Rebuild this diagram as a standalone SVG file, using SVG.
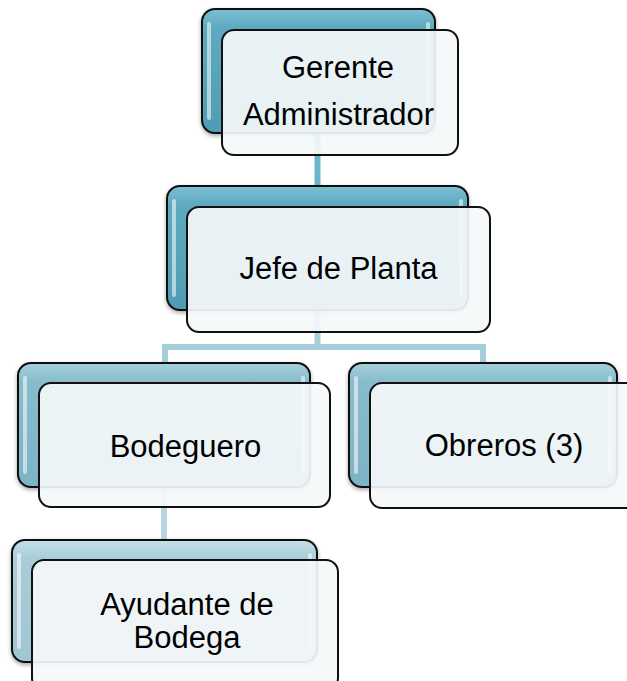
<svg xmlns="http://www.w3.org/2000/svg" width="627" height="681" viewBox="0 0 627 681">
<defs>
<linearGradient id="g1" x1="0" y1="0" x2="0" y2="1">
<stop offset="0" stop-color="#7cc0d4"/><stop offset="0.15" stop-color="#5eaac0"/><stop offset="1" stop-color="#4f9cb4"/>
</linearGradient>
<linearGradient id="g2" x1="0" y1="0" x2="0" y2="1">
<stop offset="0" stop-color="#a6d0dc"/><stop offset="0.15" stop-color="#88bccc"/><stop offset="1" stop-color="#7db3c4"/>
</linearGradient>
<linearGradient id="g3" x1="0" y1="0" x2="0" y2="1">
<stop offset="0" stop-color="#c4e0e8"/><stop offset="0.15" stop-color="#a9cdd8"/><stop offset="1" stop-color="#9fc6d2"/>
</linearGradient>
<filter id="sh" x="-10%" y="-10%" width="120%" height="130%">
<feGaussianBlur in="SourceAlpha" stdDeviation="2"/>
<feOffset dx="0" dy="2" result="b"/>
<feComponentTransfer><feFuncA type="linear" slope="0.35"/></feComponentTransfer>
<feMerge><feMergeNode/><feMergeNode in="SourceGraphic"/></feMerge>
</filter>
</defs>
<style>
.back{stroke:#111;stroke-width:2}
.front{fill:#f5f9fa;fill-opacity:0.92;stroke:#111;stroke-width:2}
.hl{fill:#ffffff;fill-opacity:0.55}
.t{font-family:"Liberation Sans",Arial,sans-serif;font-size:31px;fill:#000;text-anchor:middle}
.c{fill:none;stroke-width:6}
</style>
<g id="connectors">
<line class="c" x1="317.5" y1="133" x2="317.5" y2="187" stroke="#6db5cb"/>
<polyline class="c" points="317.5,310 317.5,347 165,347 165,364" stroke="#a6cfdb"/>
<polyline class="c" points="317.5,347 483,347 483,364" stroke="#a6cfdb"/>
<line class="c" x1="164" y1="487" x2="164" y2="541" stroke="#b8d6e0"/>
</g>
<g id="gerente">
<rect class="back" x="202" y="9" width="233" height="124" rx="13" fill="url(#g1)" filter="url(#sh)"/>
<rect class="hl" x="207" y="22" width="4" height="98" rx="2"/>
<rect class="hl" x="426" y="22" width="4" height="98" rx="2"/>
<rect class="front" x="222" y="30" width="236" height="125" rx="12"/>
<text class="t" x="338" y="78">Gerente</text>
<text class="t" x="338.5" y="125">Administrador</text>
</g>
<g id="jefe">
<rect class="back" x="167" y="186" width="301" height="124" rx="13" fill="url(#g1)" filter="url(#sh)"/>
<rect class="hl" x="172" y="199" width="4" height="98" rx="2"/>
<rect class="hl" x="459" y="199" width="4" height="98" rx="2"/>
<rect class="front" x="187" y="207" width="303" height="125" rx="12"/>
<text class="t" x="338.5" y="279">Jefe de Planta</text>
</g>
<g id="bodeguero">
<rect class="back" x="18" y="363" width="292" height="124" rx="13" fill="url(#g2)" filter="url(#sh)"/>
<rect class="hl" x="23" y="376" width="4" height="98" rx="2"/>
<rect class="hl" x="301" y="376" width="4" height="98" rx="2"/>
<rect class="front" x="39" y="383" width="291" height="124" rx="12"/>
<text class="t" x="185.5" y="457">Bodeguero</text>
</g>
<g id="obreros">
<rect class="back" x="349" y="363" width="268" height="124" rx="13" fill="url(#g2)" filter="url(#sh)"/>
<rect class="hl" x="354" y="376" width="4" height="98" rx="2"/>
<rect class="hl" x="608" y="376" width="4" height="98" rx="2"/>
<rect class="front" x="370" y="383" width="270" height="125" rx="12"/>
<text class="t" x="504" y="456">Obreros (3)</text>
</g>
<g id="ayudante">
<rect class="back" x="12" y="540" width="305" height="122" rx="13" fill="url(#g3)" filter="url(#sh)"/>
<rect class="hl" x="17" y="553" width="4" height="96" rx="2"/>
<rect class="hl" x="308" y="553" width="4" height="96" rx="2"/>
<rect class="front" x="32" y="560" width="306" height="130" rx="12"/>
<text class="t" x="187" y="615">Ayudante de</text>
<text class="t" x="187" y="648">Bodega</text>
</g>
</svg>
